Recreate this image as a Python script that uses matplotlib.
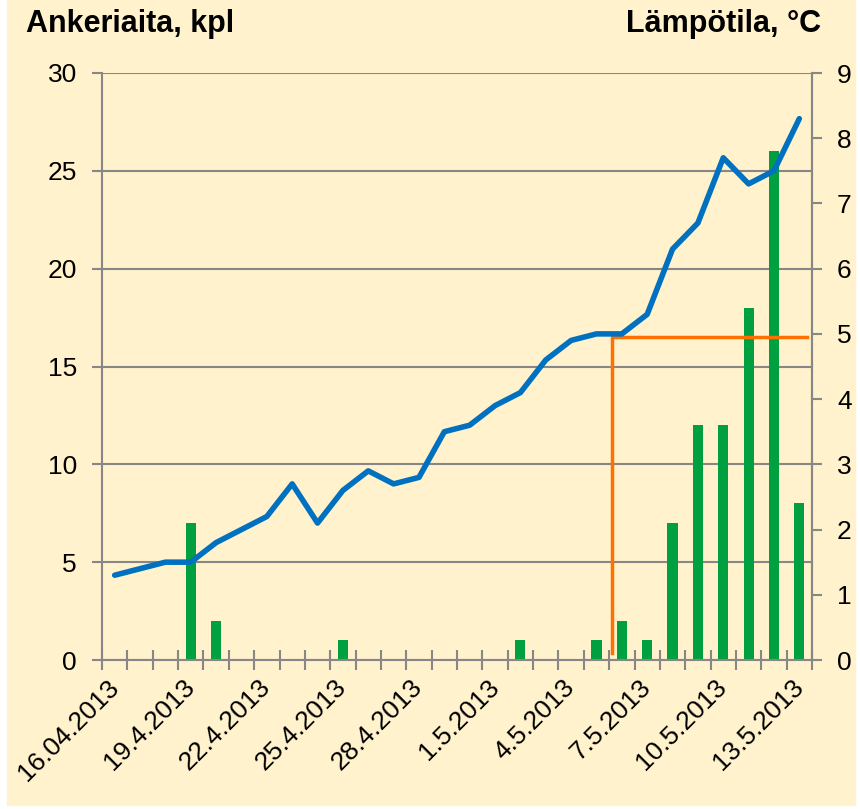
import numpy as np
import matplotlib.pyplot as plt
from matplotlib.patches import Rectangle

plt.rcParams['font.family'] = ['Liberation Sans', 'DejaVu Sans']

# Päivät 16.4.2013 - 13.5.2013
dates = ['16.04.2013', '17.4.2013', '18.4.2013', '19.4.2013', '20.4.2013', '21.4.2013',
         '22.4.2013', '23.4.2013', '24.4.2013', '25.4.2013', '26.4.2013', '27.4.2013',
         '28.4.2013', '29.4.2013', '30.4.2013', '1.5.2013', '2.5.2013', '3.5.2013',
         '4.5.2013', '5.5.2013', '6.5.2013', '7.5.2013', '8.5.2013', '9.5.2013',
         '10.5.2013', '11.5.2013', '12.5.2013', '13.5.2013']

# Ankeriaiden määrä (kpl)
eels = [0, 0, 0, 7, 2, 0, 0, 0, 0, 1, 0, 0, 0, 0, 0, 0, 1, 0, 0, 1, 2, 1, 7, 12,
        12, 18, 26, 8]

# Veden lämpötila (°C)
temps = [1.3, 1.4, 1.5, 1.5, 1.8, 2.0, 2.2, 2.7, 2.1, 2.6, 2.9, 2.7, 2.8, 3.5,
         3.6, 3.9, 4.1, 4.6, 4.9, 5.0, 5.0, 5.3, 6.3, 6.7, 7.7, 7.3, 7.5, 8.3]

# Raja 5 °C
limit_x = [19.6, 19.6, 27.3]
limit_y = [0.1, 4.95, 4.95]

grey = '#878787'
bg = '#FFF2CC'

fig = plt.figure(figsize=(8.6, 8.09), dpi=100, facecolor='white')
fig.patches.append(Rectangle((7 / 860, 4 / 809), 848 / 860, 805 / 809,
                             transform=fig.transFigure, color=bg, zorder=-10))

ax = fig.add_axes([102 / 860, 1 - 660 / 809, 710 / 860, 587 / 809])
ax.set_facecolor('none')
x = np.arange(len(dates))

ax.bar(x, eels, width=0.4, color='#00A040', zorder=2)
ax.set_xlim(-0.5, len(dates) - 0.5)
ax.set_ylim(0, 30)
ax.set_yticks(range(0, 31, 5))
ax.yaxis.grid(True, color=grey, lw=1.5)
ax.set_axisbelow(True)

ax.set_xticks(x[::3])
ax.set_xticklabels(dates[::3], rotation=45, ha='right', va='center',
                   rotation_mode='anchor', fontsize=19)
ax.set_xticks(np.arange(-0.5, len(dates), 1), minor=True)
ax.tick_params(axis='x', which='major', length=0, pad=17)
ax.tick_params(axis='x', which='minor', direction='inout', length=14,
               width=1.5, color=grey)
ax.tick_params(axis='y', direction='out', length=7, width=1.5, color=grey,
               labelsize=19, pad=11)

for s in ['left', 'bottom', 'right']:
    ax.spines[s].set_color(grey)
    ax.spines[s].set_linewidth(1.5)
ax.spines['top'].set_visible(False)

ax2 = ax.twinx()
ax2.plot(x, temps, color='#0070C0', lw=4, solid_capstyle='round', zorder=3)
ax2.plot(limit_x, limit_y, color='#FF7000', lw=2.5, zorder=2)
ax2.set_ylim(0, 9)
ax2.set_yticks(range(0, 10))
ax2.tick_params(axis='y', direction='out', length=7, width=1.5, color=grey,
                labelsize=19, pad=11)
for s in ['top', 'left', 'bottom']:
    ax2.spines[s].set_visible(False)
ax2.spines['right'].set_color(grey)
ax2.spines['right'].set_linewidth(1.5)

fig.text(26 / 860, 1 - 32 / 809, 'Ankeriaita, kpl', fontsize=22,
         fontweight='bold', ha='left', va='baseline')
fig.text(821 / 860, 1 - 32 / 809, 'Lämpötila, °C', fontsize=22,
         fontweight='bold', ha='right', va='baseline')

fig.savefig('out.png', dpi=100, facecolor='white')
